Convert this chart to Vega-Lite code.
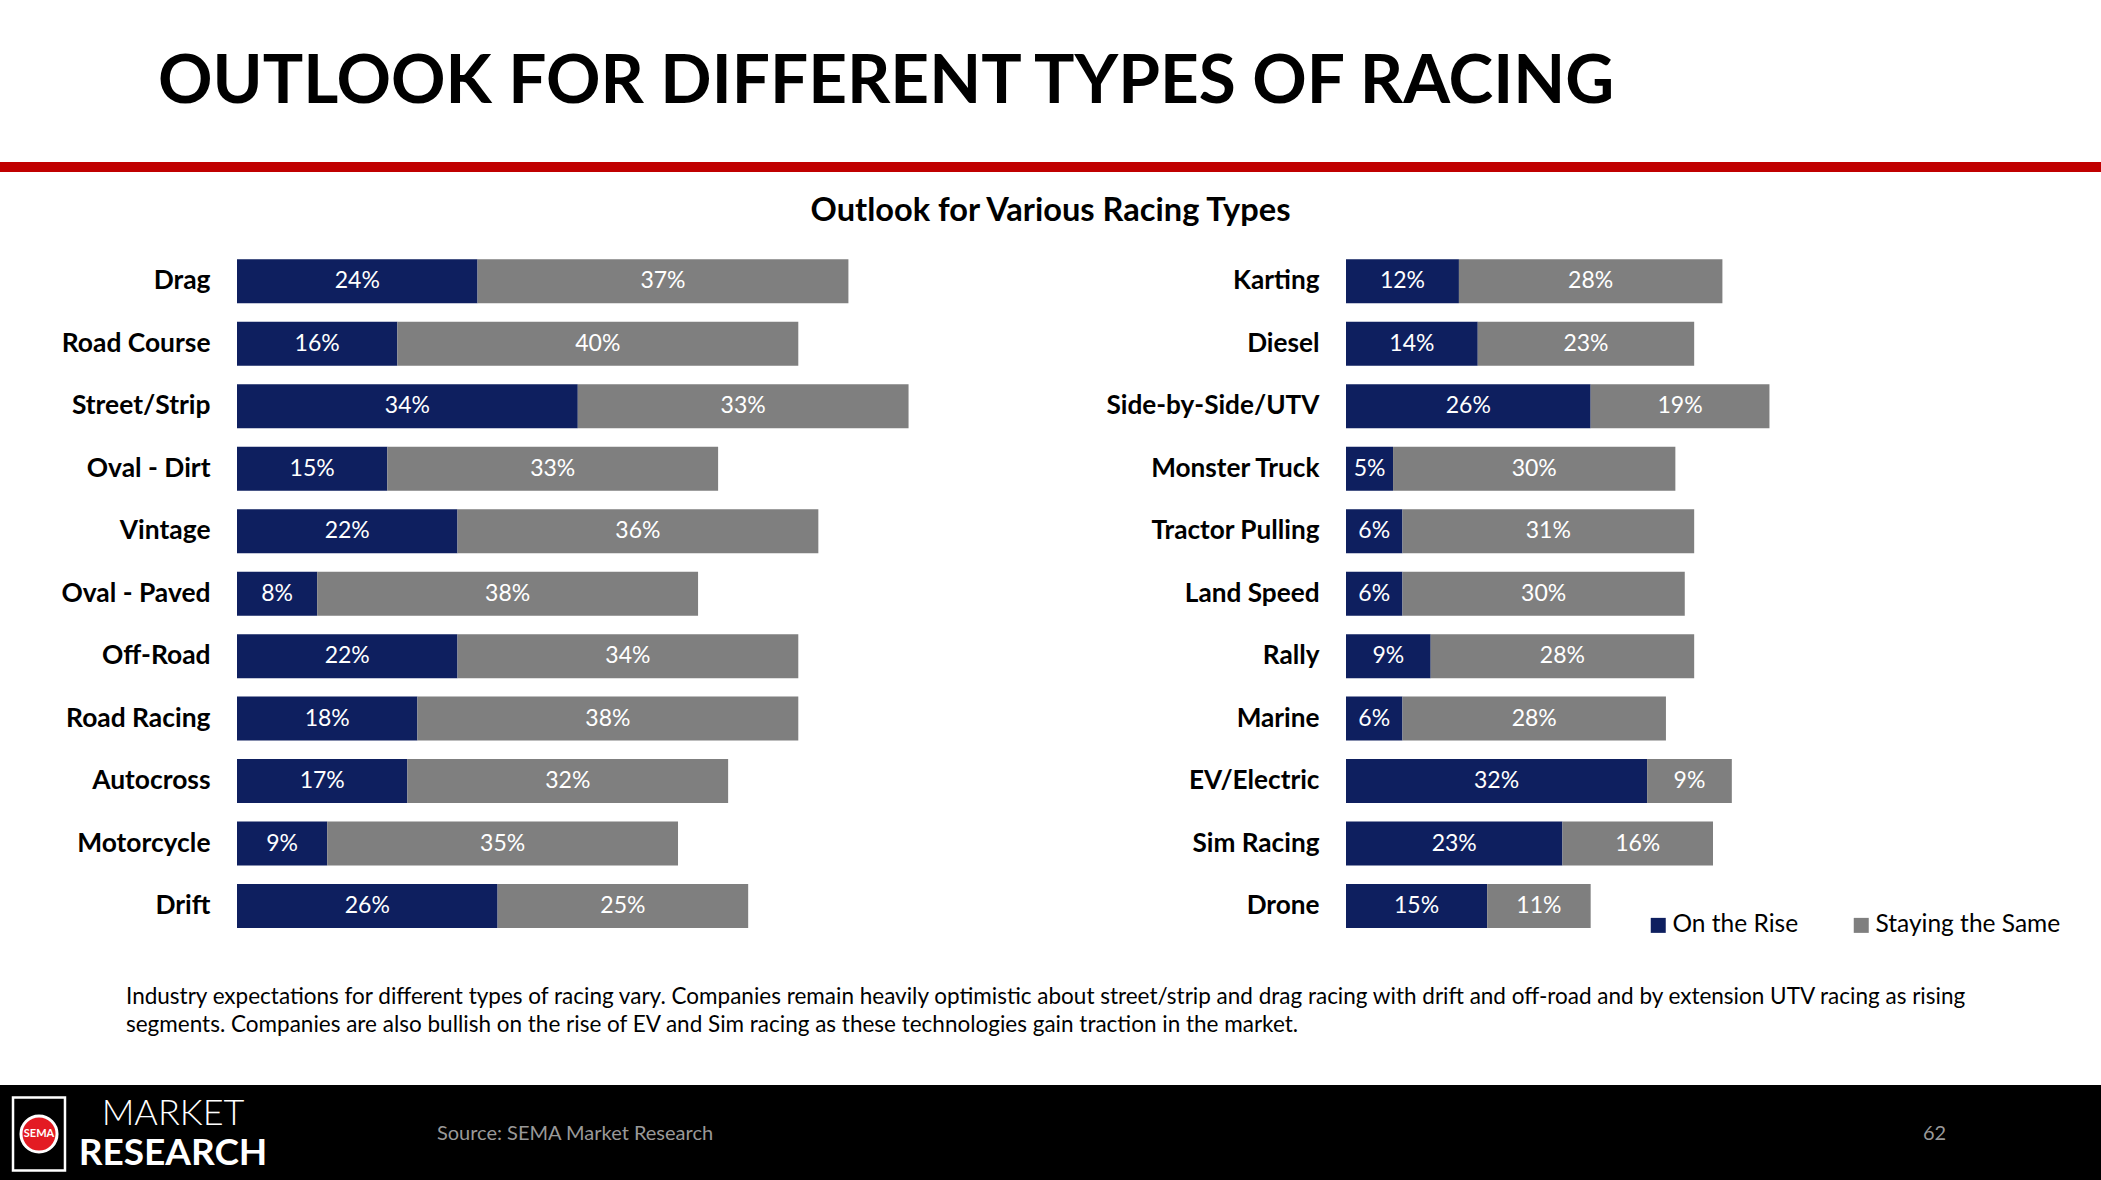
{
  "$schema": "https://vega.github.io/schema/vega-lite/v6.json",
  "padding": 0,
  "spacing": 0,
  "background": "white",
  "config": {
    "view": {"stroke": null},
    "font": "Lato",
    "concat": {"spacing": 0}
  },
  "datasets": {
    "left": [
      {"type": "Drag", "series": "On the Rise", "share": 0.24},
      {"type": "Drag", "series": "Staying the Same", "share": 0.37},
      {"type": "Road Course", "series": "On the Rise", "share": 0.16},
      {"type": "Road Course", "series": "Staying the Same", "share": 0.40},
      {"type": "Street/Strip", "series": "On the Rise", "share": 0.34},
      {"type": "Street/Strip", "series": "Staying the Same", "share": 0.33},
      {"type": "Oval - Dirt", "series": "On the Rise", "share": 0.15},
      {"type": "Oval - Dirt", "series": "Staying the Same", "share": 0.33},
      {"type": "Vintage", "series": "On the Rise", "share": 0.22},
      {"type": "Vintage", "series": "Staying the Same", "share": 0.36},
      {"type": "Oval - Paved", "series": "On the Rise", "share": 0.08},
      {"type": "Oval - Paved", "series": "Staying the Same", "share": 0.38},
      {"type": "Off-Road", "series": "On the Rise", "share": 0.22},
      {"type": "Off-Road", "series": "Staying the Same", "share": 0.34},
      {"type": "Road Racing", "series": "On the Rise", "share": 0.18},
      {"type": "Road Racing", "series": "Staying the Same", "share": 0.38},
      {"type": "Autocross", "series": "On the Rise", "share": 0.17},
      {"type": "Autocross", "series": "Staying the Same", "share": 0.32},
      {"type": "Motorcycle", "series": "On the Rise", "share": 0.09},
      {"type": "Motorcycle", "series": "Staying the Same", "share": 0.35},
      {"type": "Drift", "series": "On the Rise", "share": 0.26},
      {"type": "Drift", "series": "Staying the Same", "share": 0.25}
    ],
    "right": [
      {"type": "Karting", "series": "On the Rise", "share": 0.12},
      {"type": "Karting", "series": "Staying the Same", "share": 0.28},
      {"type": "Diesel", "series": "On the Rise", "share": 0.14},
      {"type": "Diesel", "series": "Staying the Same", "share": 0.23},
      {"type": "Side-by-Side/UTV", "series": "On the Rise", "share": 0.26},
      {"type": "Side-by-Side/UTV", "series": "Staying the Same", "share": 0.19},
      {"type": "Monster Truck", "series": "On the Rise", "share": 0.05},
      {"type": "Monster Truck", "series": "Staying the Same", "share": 0.30},
      {"type": "Tractor Pulling", "series": "On the Rise", "share": 0.06},
      {"type": "Tractor Pulling", "series": "Staying the Same", "share": 0.31},
      {"type": "Land Speed", "series": "On the Rise", "share": 0.06},
      {"type": "Land Speed", "series": "Staying the Same", "share": 0.30},
      {"type": "Rally", "series": "On the Rise", "share": 0.09},
      {"type": "Rally", "series": "Staying the Same", "share": 0.28},
      {"type": "Marine", "series": "On the Rise", "share": 0.06},
      {"type": "Marine", "series": "Staying the Same", "share": 0.28},
      {"type": "EV/Electric", "series": "On the Rise", "share": 0.32},
      {"type": "EV/Electric", "series": "Staying the Same", "share": 0.09},
      {"type": "Sim Racing", "series": "On the Rise", "share": 0.23},
      {"type": "Sim Racing", "series": "Staying the Same", "share": 0.16},
      {"type": "Drone", "series": "On the Rise", "share": 0.15},
      {"type": "Drone", "series": "Staying the Same", "share": 0.11}
    ]
  },
  "vconcat": [
    {
      "width": 316,
      "height": 161,
      "data": {"values": [{"t": "OUTLOOK FOR DIFFERENT TYPES OF RACING"}]},
      "mark": {"type": "text", "align": "left", "baseline": "middle", "font": "Lato", "fontSize": 67.5, "fontWeight": "bold", "color": "#000000", "dy": 2},
      "encoding": {"text": {"field": "t"}}
    },
    {
      "width": 2101,
      "height": 10,
      "view": {"fill": "#C00000", "stroke": null},
      "data": {"values": [{"t": ""}]},
      "mark": {"type": "text"},
      "encoding": {"text": {"field": "t"}}
    },
    {
      "width": 2101,
      "height": 77.3,
      "data": {"values": [{"t": "Outlook for Various Racing Types"}]},
      "mark": {"type": "text", "align": "center", "baseline": "middle", "font": "Lato", "fontSize": 32.6, "fontWeight": "bold", "color": "#000000"},
      "encoding": {"text": {"field": "t"}}
    },
    {
      "hconcat": [
        {
          "width": 1103,
          "height": 687.3,
          "data": {"name": "left"},
          "encoding": {
            "y": {
              "field": "type", "type": "nominal",
              "sort": ["Drag", "Road Course", "Street/Strip", "Oval - Dirt", "Vintage", "Oval - Paved", "Off-Road", "Road Racing", "Autocross", "Motorcycle", "Drift"],
              "scale": {"paddingInner": 0.296, "paddingOuter": 0.148},
              "axis": {"title": null, "domain": false, "ticks": false, "offset": -210, "labelPadding": 0, "labelLimit": 400, "labelFont": "Lato", "labelFontSize": 26.4, "labelFontWeight": "bold", "labelColor": "#000000"}
            }
          },
          "layer": [
            {
              "mark": {"type": "bar"},
              "encoding": {
                "x": {"field": "share", "type": "quantitative", "stack": "zero", "scale": {"domain": [0, 0.864], "range": [237, 1103], "nice": false, "zero": true}, "axis": null},
                "color": {"field": "series", "type": "nominal", "scale": {"domain": ["On the Rise", "Staying the Same"], "range": ["#0E1F5F", "#7F7F7F"]}, "legend": null},
                "order": {"field": "series", "type": "nominal", "sort": "ascending"}
              }
            },
            {
              "mark": {"type": "text", "font": "Lato", "fontSize": 23, "baseline": "middle", "align": "center"},
              "encoding": {
                "x": {"field": "share", "type": "quantitative", "stack": "zero", "bandPosition": 0.5},
                "detail": {"field": "series", "type": "nominal"},
                "order": {"field": "series", "type": "nominal", "sort": "ascending"},
                "color": {"value": "#FFFFFF"},
                "text": {"field": "share", "type": "quantitative", "format": ".0%"}
              }
            }
          ]
        },
        {
          "width": 958,
          "height": 687.3,
          "data": {"name": "right"},
          "encoding": {
            "y": {
              "field": "type", "type": "nominal",
              "sort": ["Karting", "Diesel", "Side-by-Side/UTV", "Monster Truck", "Tractor Pulling", "Land Speed", "Rally", "Marine", "EV/Electric", "Sim Racing", "Drone"],
              "scale": {"paddingInner": 0.296, "paddingOuter": 0.148},
              "axis": {"title": null, "domain": false, "ticks": false, "offset": -216, "labelPadding": 0, "labelLimit": 400, "labelFont": "Lato", "labelFontSize": 26.2, "labelFontWeight": "bold", "labelColor": "#000000"}
            }
          },
          "layer": [
            {
              "mark": {"type": "bar"},
              "encoding": {
                "x": {"field": "share", "type": "quantitative", "stack": "zero", "scale": {"domain": [0, 0.763], "range": [243, 961], "nice": false, "zero": true}, "axis": null},
                "color": {
                  "field": "series", "type": "nominal",
                  "scale": {"domain": ["On the Rise", "Staying the Same"], "range": ["#0E1F5F", "#7F7F7F"]},
                  "legend": {"title": null, "orient": "bottom-right", "direction": "horizontal", "offset": 0, "padding": 0, "symbolType": "square", "symbolSize": 225, "symbolStrokeWidth": 0, "labelFont": "Lato", "labelFontSize": 24.5, "labelColor": "#000000", "labelOffset": 2, "labelLimit": 400, "columnPadding": 50}
                },
                "order": {"field": "series", "type": "nominal", "sort": "ascending"}
              }
            },
            {
              "mark": {"type": "text", "font": "Lato", "fontSize": 23, "baseline": "middle", "align": "center"},
              "encoding": {
                "x": {"field": "share", "type": "quantitative", "stack": "zero", "bandPosition": 0.5},
                "detail": {"field": "series", "type": "nominal"},
                "order": {"field": "series", "type": "nominal", "sort": "ascending"},
                "color": {"value": "#FFFFFF"},
                "text": {"field": "share", "type": "quantitative", "format": ".0%"}
              }
            }
          ]
        }
      ],
      "resolve": {"scale": {"x": "independent", "y": "independent", "color": "independent"}, "legend": {"color": "independent"}}
    },
    {
      "width": 252,
      "height": 146.4,
      "data": {"values": [{"t": "Industry expectations for different types of racing vary. Companies remain heavily optimistic about street/strip and drag racing with drift and off-road and by extension UTV racing as rising\nsegments. Companies are also bullish on the rise of EV and Sim racing as these technologies gain traction in the market."}]},
      "mark": {"type": "text", "align": "left", "baseline": "middle", "lineBreak": "\n", "lineHeight": 27.5, "font": "Lato", "fontSize": 22.5, "color": "#000000", "dy": -14},
      "encoding": {"text": {"field": "t"}}
    },
    {
      "hconcat": [
        {
          "width": 78,
          "height": 98,
          "view": {"fill": "#000000", "stroke": null},
          "data": {"values": [{"t": "SEMA"}]},
          "layer": [
            {"mark": {"type": "point", "shape": "M-0.712,-1L0.712,-1L0.712,1L-0.712,1Z", "size": 5329, "filled": false, "stroke": "#FFFFFF", "strokeWidth": 2.5, "opacity": 1}, "encoding": {}},
            {"mark": {"type": "point", "shape": "circle", "size": 1300, "filled": true, "fill": "#E31B23", "stroke": "#FFFFFF", "strokeWidth": 3, "opacity": 1}, "encoding": {}},
            {"mark": {"type": "text", "font": "Lato", "fontSize": 11, "fontWeight": "bold", "color": "#FFFFFF", "baseline": "middle"}, "encoding": {"text": {"field": "t"}}}
          ]
        },
        {
          "width": 190,
          "height": 98,
          "view": {"fill": "#000000", "stroke": null},
          "layer": [
            {
              "data": {"values": [{"k": "a", "w": "MARKET"}]},
              "mark": {"type": "text", "font": "Lato", "fontSize": 36, "fontWeight": 300, "letterSpacing": 2, "color": "#FFFFFF", "baseline": "middle"},
              "encoding": {
                "y": {"field": "k", "type": "ordinal", "scale": {"type": "point", "domain": ["a", "b"], "padding": 0.7}, "axis": null},
                "text": {"field": "w"}
              }
            },
            {
              "data": {"values": [{"k": "b", "w": "RESEARCH"}]},
              "mark": {"type": "text", "font": "Lato", "fontSize": 37, "fontWeight": "bold", "color": "#FFFFFF", "baseline": "middle"},
              "encoding": {
                "y": {"field": "k", "type": "ordinal", "scale": {"type": "point", "domain": ["a", "b"], "padding": 0.7}, "axis": null},
                "text": {"field": "w"}
              }
            }
          ]
        },
        {
          "width": 614,
          "height": 98,
          "view": {"fill": "#000000", "stroke": null},
          "data": {"values": [{"t": "Source: SEMA Market Research"}]},
          "mark": {"type": "text", "font": "Lato", "fontSize": 20, "color": "#999999", "baseline": "middle"},
          "encoding": {"text": {"field": "t"}}
        },
        {
          "width": 886,
          "height": 98,
          "view": {"fill": "#000000", "stroke": null},
          "data": {"values": [{"t": ""}]},
          "mark": {"type": "text"},
          "encoding": {"text": {"field": "t"}}
        },
        {
          "width": 333,
          "height": 98,
          "view": {"fill": "#000000", "stroke": null},
          "data": {"values": [{"t": "62"}]},
          "mark": {"type": "text", "font": "Lato", "fontSize": 20, "color": "#999999", "baseline": "middle"},
          "encoding": {"text": {"field": "t"}}
        }
      ]
    }
  ]
}
